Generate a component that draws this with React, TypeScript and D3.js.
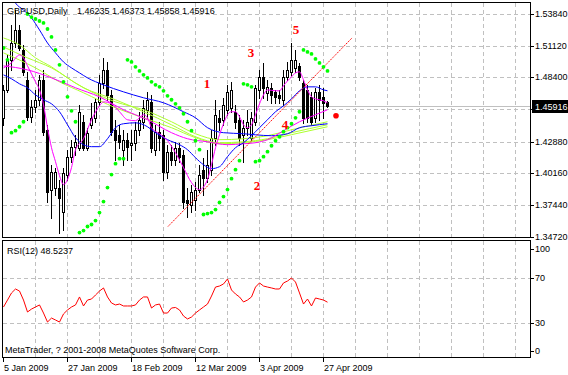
import React from 'react';
import * as d3 from 'd3';

// daily bars, 5 Jan 2009 .. 28 Apr 2009
const open = [1.4492, 1.4732, 1.499, 1.5135, 1.5247, 1.5075, 1.4818, 1.45, 1.4587, 1.4647,
  1.4818, 1.4389, 1.3875, 1.3892, 1.3892, 1.3686, 1.4004, 1.4158, 1.4244, 1.4235,
  1.4458, 1.4235, 1.4432, 1.4492, 1.4629, 1.4792, 1.4904, 1.469, 1.4389, 1.4346,
  1.4218, 1.4304, 1.4261, 1.4278, 1.4389, 1.4458, 1.4561, 1.4629, 1.4218, 1.4372,
  1.4346, 1.4029, 1.4201, 1.4132, 1.4235, 1.4175, 1.3789, 1.3746, 1.3789, 1.3875,
  1.4046, 1.3978, 1.4046, 1.4321, 1.4492, 1.4475, 1.4561, 1.4578, 1.4544, 1.4475,
  1.4346, 1.4406, 1.4321, 1.4458, 1.4732, 1.4844, 1.4707, 1.475, 1.4715, 1.469,
  1.4647, 1.4844, 1.4887, 1.4921, 1.4933, 1.4792, 1.4732, 1.4672, 1.4492, 1.4715,
  1.4672, 1.46235];
const high = [1.4775, 1.5032, 1.529, 1.5418, 1.529, 1.5118, 1.4887, 1.4647, 1.4732, 1.4861,
  1.4904, 1.4432, 1.4089, 1.4063, 1.3961, 1.4063, 1.4218, 1.4304, 1.4347, 1.4604,
  1.4518, 1.4406, 1.4621, 1.4664, 1.4861, 1.5007, 1.4972, 1.4732, 1.4475, 1.4432,
  1.4389, 1.4364, 1.4389, 1.4458, 1.4544, 1.4647, 1.4715, 1.469, 1.4432, 1.4458,
  1.4389, 1.4261, 1.4261, 1.4287, 1.4278, 1.4218, 1.3892, 1.3918, 1.3943, 1.4089,
  1.4149, 1.4218, 1.4389, 1.4647, 1.4561, 1.4664, 1.4775, 1.4801, 1.4604, 1.4518,
  1.4475, 1.4561, 1.4544, 1.4775, 1.4904, 1.4964, 1.4818, 1.4792, 1.4732, 1.4732,
  1.4904, 1.4972, 1.5135, 1.5075, 1.4964, 1.4818, 1.4775, 1.4715, 1.475, 1.4775,
  1.475, 1.46373];
const low = [1.4432, 1.4715, 1.4904, 1.5101, 1.5075, 1.4861, 1.4475, 1.4458, 1.4544, 1.4604,
  1.4346, 1.3772, 1.3635, 1.3832, 1.3506, 1.3532, 1.3961, 1.4115, 1.4175, 1.4218,
  1.4218, 1.4218, 1.4406, 1.4458, 1.4604, 1.475, 1.4647, 1.4346, 1.4132, 1.4235,
  1.4089, 1.4132, 1.4132, 1.4218, 1.4346, 1.4406, 1.4492, 1.4201, 1.4175, 1.4218,
  1.3961, 1.3978, 1.4089, 1.4089, 1.4115, 1.372, 1.3643, 1.3686, 1.3703, 1.3858,
  1.3832, 1.3943, 1.4004, 1.4261, 1.4389, 1.4432, 1.4518, 1.4544, 1.4407, 1.4261,
  1.4115, 1.4346, 1.4304, 1.4432, 1.4664, 1.4664, 1.4647, 1.4621, 1.4621, 1.4621,
  1.4604, 1.4818, 1.4861, 1.4887, 1.4818, 1.4449, 1.4458, 1.4432, 1.4458, 1.4475,
  1.4492, 1.45858];
const close = [1.4732, 1.499, 1.5135, 1.5247, 1.5092, 1.4887, 1.45, 1.4587, 1.4647, 1.4818,
  1.4372, 1.3858, 1.4029, 1.4029, 1.3806, 1.402, 1.4158, 1.4244, 1.4287, 1.4544,
  1.4235, 1.4364, 1.4492, 1.4629, 1.4792, 1.4904, 1.469, 1.4372, 1.4304, 1.4287,
  1.4304, 1.4244, 1.4278, 1.4389, 1.4475, 1.4578, 1.4647, 1.4235, 1.4372, 1.4321,
  1.4029, 1.4201, 1.4132, 1.4235, 1.4158, 1.3772, 1.3763, 1.3858, 1.3875, 1.4004,
  1.3978, 1.4089, 1.4321, 1.4518, 1.4458, 1.4604, 1.4715, 1.4732, 1.4458, 1.4321,
  1.4406, 1.4458, 1.4492, 1.475, 1.4844, 1.475, 1.4758, 1.469, 1.4672, 1.4664,
  1.4844, 1.4904, 1.499, 1.499, 1.4844, 1.4492, 1.4492, 1.4458, 1.4715, 1.4647,
  1.4621, 1.45916];

// parabolic SAR, one per bar
const sar = [1.5092, 1.499, 1.4364, 1.4381, 1.4415, 1.4458, 1.5384, 1.5358, 1.5341, 1.5324,
  1.5307, 1.5255, 1.5187, 1.5075, 1.4947, 1.4801, 1.4672, 1.4552, 1.4458, 1.3506,
  1.3523, 1.3558, 1.3575, 1.3609, 1.3678, 1.3772, 1.3892, 1.4004, 1.4098, 1.4141,
  1.4141, 1.499, 1.4972, 1.493, 1.4895, 1.4861, 1.4835, 1.4801, 1.4775, 1.4758,
  1.4724, 1.4681, 1.4647, 1.4612, 1.4578, 1.4527, 1.4458, 1.4381, 1.4295, 1.4218,
  1.3661, 1.3669, 1.3678, 1.3703, 1.3764, 1.3815, 1.3875, 1.3969, 1.4046, 1.4124,
  1.4784, 1.4775, 1.4758, 1.4115, 1.4124, 1.4158, 1.4201, 1.4252, 1.4295, 1.4329,
  1.4372, 1.4407, 1.4441, 1.4492, 1.4544, 1.5075, 1.5058, 1.5041, 1.4998, 1.4964,
  1.493, 1.4895];
const nextSar = [83.25, 1.4509];

const rsi = [44.3, 50.4, 56.6, 60.1, 58.3, 50.4, 39.9, 42.5, 44.3, 46.1,
  39.0, 31.1, 34.6, 32.9, 31.1, 38.2, 41.7, 44.3, 46.1, 53.1,
  45.2, 50.4, 51.3, 54.8, 58.3, 61.0, 53.1, 47.8, 46.1, 46.9,
  45.2, 45.2, 45.2, 46.1, 50.4, 53.1, 53.1, 43.4, 46.1, 46.9,
  39.0, 39.0, 43.4, 43.9, 41.7, 36.4, 33.8, 35.5, 39.0, 41.7,
  44.3, 46.9, 53.9, 61.8, 62.7, 64.5, 68.9, 59.2, 55.7, 53.1,
  48.7, 50.4, 53.1, 61.8, 65.4, 62.7, 61.8, 61.0, 60.1, 60.1,
  65.4, 67.1, 69.7, 66.2, 56.6, 46.9, 51.3, 45.2, 52.2, 51.3,
  50.4, 48.5237];

// moving averages, [bar, price]
const blueSlow = [[2, 1.5538], [3, 1.5478], [5, 1.5418], [7, 1.535], [9, 1.5247], [11, 1.5135], [13, 1.505], [15, 1.4972],
  [17, 1.4921], [19, 1.4878], [21, 1.4835], [25, 1.4775], [30, 1.4715], [35, 1.4664], [40, 1.4621], [45, 1.4544],
  [48, 1.4492], [51, 1.4407], [55, 1.4364], [60, 1.4355], [63, 1.4346], [67, 1.4338], [71, 1.4355], [74, 1.4407],
  [77, 1.4424], [81, 1.4441]];
const blueMid = [[0, 1.4861], [2, 1.4827], [4, 1.4784], [6, 1.475], [8, 1.4689], [10, 1.4647], [12, 1.4612], [14, 1.4544],
  [16, 1.4432], [18, 1.4321], [20, 1.4261], [22, 1.4244], [24, 1.4244], [26, 1.4312], [28, 1.4407], [30, 1.4441],
  [33, 1.4449], [36, 1.4415], [38, 1.4364], [41, 1.4304], [44, 1.4261], [46, 1.4218], [48, 1.4149], [50, 1.4089],
  [52, 1.4055], [54, 1.4072], [56, 1.4158], [58, 1.4235], [60, 1.4278], [62, 1.4338], [64, 1.4407], [66, 1.4475],
  [68, 1.4544], [70, 1.4595], [72, 1.4655], [74, 1.4724], [76, 1.4758], [78, 1.4758], [80, 1.4732], [81, 1.4724]];
const magFast = [[0, 1.4921], [2, 1.4964], [4, 1.5032], [5, 1.5007], [6, 1.4938], [8, 1.4801], [9, 1.4732], [10, 1.4604],
  [11, 1.4407], [12, 1.4235], [13, 1.4115], [14, 1.3995], [15, 1.3918], [16, 1.3961], [17, 1.4064], [18, 1.4218],
  [20, 1.4312], [22, 1.4475], [24, 1.4595], [25, 1.4629], [27, 1.4612], [29, 1.4544], [31, 1.4475], [33, 1.4467],
  [35, 1.4518], [36, 1.4492], [37, 1.4407], [39, 1.4355], [41, 1.4295], [43, 1.4192], [45, 1.4064], [47, 1.3935],
  [49, 1.3875], [51, 1.3961], [52, 1.4089], [53, 1.4235], [54, 1.4347], [55, 1.4441], [56, 1.4518], [57, 1.4544],
  [58, 1.4544], [59, 1.4501], [60, 1.4432], [61, 1.4407], [62, 1.4432], [63, 1.4518], [64, 1.4612], [65, 1.4689],
  [66, 1.4732], [68, 1.4724], [69, 1.4724], [70, 1.4767], [71, 1.4809], [72, 1.4844], [73, 1.4878], [74, 1.4887],
  [75, 1.4818], [76, 1.4732], [77, 1.4672], [78, 1.4655], [80, 1.4638], [81, 1.4621]];
const magMid = [[0, 1.4938], [6, 1.4904], [12, 1.4835], [18, 1.475], [24, 1.4672], [30, 1.4561], [36, 1.4475], [42, 1.4364],
  [46, 1.4312], [51, 1.4286], [56, 1.4261], [60, 1.4269], [63, 1.4278], [66, 1.4304], [70, 1.4381], [74, 1.4458],
  [78, 1.4518], [81, 1.4561]];
const ygA = [[0, 1.5178], [4, 1.5118], [8, 1.5007], [12, 1.493], [16, 1.4835], [22, 1.4715], [28, 1.4629], [35, 1.4561],
  [42, 1.4458], [48, 1.4355], [54, 1.4304], [60, 1.4312], [66, 1.4338], [72, 1.4389], [81, 1.4458]];
const ygB = [[0, 1.5101], [6, 1.5007], [12, 1.4921], [20, 1.475], [28, 1.4647], [35, 1.4544], [42, 1.4432], [48, 1.4329],
  [54, 1.4278], [60, 1.4286], [66, 1.4312], [72, 1.4364], [81, 1.4432]];
const ygC = [[0, 1.505], [8, 1.4921], [14, 1.4801], [20, 1.4707], [28, 1.4578], [35, 1.4492], [42, 1.4407], [48, 1.4321],
  [54, 1.4269], [60, 1.4278], [66, 1.4304], [72, 1.4347], [81, 1.4415]];

const trendLine = [[41.25, 1.3558], [87.25, 1.5178]];
const waveLabels = ['1', '2', '3', '4', '5'];
const waveBars = [51, 63.5, 62, 70.5, 73.25];
const wavePrices = [1.4784, 1.3909, 1.505, 1.4432, 1.5255];

const priceTicks = [1.5384, 1.5112, 1.484, 1.4564, 1.4288, 1.4016, 1.3744, 1.3472];
const priceLabels = ['1.53840', '1.51120', '1.48400', '', '1.42880', '1.40160', '1.37440', '1.34720'];
const rsiTicks = [100, 70, 30, 0];
const dateBars = [0, 16, 32, 48, 64, 80];
const dateLabels = ['5 Jan 2009', '27 Jan 2009', '18 Feb 2009', '12 Mar 2009', '3 Apr 2009', '27 Apr 2009'];
const lastPrice = 1.45916;

const FONT = '"Liberation Sans", Arial, sans-serif';

export default function App() {
  const x = d3.scaleLinear().domain([0, 132]).range([3, 531]);
  const y = d3.scaleLinear().domain([1.3472, 1.5384]).range([236.5, 14]);
  const yr = d3.scaleLinear().domain([30, 70]).range([323.3, 277.7]);
  const px = (i: number) => Math.round(x(i));

  const maLine = d3.line<number[]>()
    .x(d => x(d[0]) + 0.5)
    .y(d => y(d[1]))
    .curve(d3.curveMonotoneX);
  const rsiLine = d3.line<number>()
    .x((d, i) => px(i) + 0.5)
    .y(d => yr(d));

  const gridBars = d3.range(8, 129, 8);
  const mas: [number[][], string][] = [
    [ygC, '#adff2f'], [ygB, '#adff2f'], [ygA, '#adff2f'],
    [blueSlow, '#0000ff'], [magMid, '#ff00ff'], [blueMid, '#0000ff'], [magFast, '#ff00ff'],
  ];

  return (
    <svg width={568} height={375} style={{position: 'absolute', left: 0, top: 0, background: '#fff'}}
      fontFamily={FONT} fontSize={9}>
      <defs>
        <clipPath id="main"><rect x={3} y={3} width={528} height={234} /></clipPath>
        <clipPath id="sub"><rect x={3} y={241} width={528} height={117} /></clipPath>
      </defs>
      <rect width={568} height={375} fill="#fff" />

      {/* grid */}
      <g stroke="#c0c0c0" strokeDasharray="4,3" shapeRendering="crispEdges">
        {gridBars.map(b => (
          <g key={b}>
            <line x1={px(b) + 0.5} x2={px(b) + 0.5} y1={3} y2={237} />
            <line x1={px(b) + 0.5} x2={px(b) + 0.5} y1={241} y2={358} />
          </g>
        ))}
        {priceTicks.map(v => (
          <line key={v} x1={3} x2={531} y1={Math.round(y(v)) + 0.5} y2={Math.round(y(v)) + 0.5} />
        ))}
        {[70, 30].map(v => (
          <line key={v} x1={3} x2={531} y1={Math.round(yr(v)) + 0.5} y2={Math.round(yr(v)) + 0.5} />
        ))}
      </g>

      <g clipPath="url(#main)">
        {/* current price line */}
        <line x1={3} x2={531} y1={Math.round(y(lastPrice)) + 0.5} y2={Math.round(y(lastPrice)) + 0.5}
          stroke="#c0c0c0" />

        {/* candles */}
        {close.map((c, i) => {
          const cx = px(i);
          const o = open[i];
          const top = Math.round(y(Math.max(o, c)));
          const bot = Math.round(y(Math.min(o, c)));
          return (
            <g key={i} shapeRendering="crispEdges">
              <line x1={cx + 0.5} x2={cx + 0.5} y1={Math.round(y(high[i]))} y2={Math.round(y(low[i])) + 1} stroke="#000" />
              {c >= o ? (
                <rect x={cx - 0.5} y={top + 0.5} width={2} height={Math.max(bot - top, 1)} fill="#fff" stroke="#000" />
              ) : (
                <rect x={cx - 1} y={top} width={3} height={Math.max(bot - top + 1, 1)} fill="#000" />
              )}
            </g>
          );
        })}

        {/* moving averages */}
        {mas.map(([d, col], k) => (
          <path key={k} d={maLine(d) || ''} fill="none" stroke={col} strokeWidth={1} />
        ))}

        {/* trend line */}
        <line x1={x(trendLine[0][0])} y1={y(trendLine[0][1])} x2={x(trendLine[1][0])} y2={y(trendLine[1][1])}
          stroke="#ff0000" strokeWidth={1} strokeDasharray="1.5,1" />

        {/* parabolic SAR */}
        {sar.map((v, i) => (
          <circle key={i} cx={px(i) + 0.5} cy={y(v)} r={1.9} fill="#00ff00" />
        ))}
        <circle cx={x(nextSar[0])} cy={y(nextSar[1])} r={2.8} fill="#ff0000" />

        {/* wave counts */}
        {waveLabels.map((t, k) => (
          <text key={t} x={x(waveBars[k])} y={y(wavePrices[k])} textAnchor="middle" dominantBaseline="central"
            fontFamily='"Liberation Serif", "Times New Roman", serif' fontWeight="bold" fontSize={13} fill="#ff0000">{t}</text>
        ))}
      </g>

      {/* RSI */}
      <g clipPath="url(#sub)">
        <path d={rsiLine(rsi) || ''} fill="none" stroke="#ff0000" strokeWidth={1} />
      </g>

      {/* frames */}
      <g fill="none" stroke="#000" shapeRendering="crispEdges">
        <rect x={2.5} y={2.5} width={528} height={235} />
        <rect x={2.5} y={240.5} width={528} height={117} />
      </g>

      {/* price axis */}
      {priceTicks.map((v, k) => (
        <g key={v}>
          <line x1={531} x2={534} y1={Math.round(y(v)) + 0.5} y2={Math.round(y(v)) + 0.5} stroke="#000" />
          {priceLabels[k] && (
            <text x={535} y={Math.round(y(v))} dominantBaseline="central" fill="#000">{priceLabels[k]}</text>
          )}
        </g>
      ))}
      <rect x={532} y={Math.round(y(lastPrice)) - 6} width={36} height={13} fill="#000" />
      <text x={535} y={Math.round(y(lastPrice)) + 0.5} dominantBaseline="central" fill="#fff">{lastPrice.toFixed(5)}</text>

      {/* RSI axis */}
      {rsiTicks.map(v => {
        const ty = v === 100 ? 249 : v === 0 ? 351 : Math.round(yr(v));
        return (
          <g key={v}>
            <line x1={531} x2={534} y1={ty + 0.5} y2={ty + 0.5} stroke="#000" />
            <text x={535} y={ty} dominantBaseline="central">{v}</text>
          </g>
        );
      })}

      {/* time axis */}
      {dateBars.map((b, k) => (
        <g key={b}>
          <line x1={px(b) + 0.5} x2={px(b) + 0.5} y1={358} y2={362} stroke="#000" />
          <text x={px(b) + 1} y={371}>{dateLabels[k]}</text>
        </g>
      ))}

      {/* titles */}
      <text x={7} y={14}>GBPUSD,Daily</text>
      <text x={77} y={14}>{[open, high, low, close].map(a => a[a.length - 1].toFixed(5)).join(' ')}</text>
      <text x={7} y={254}>RSI(12) {rsi[rsi.length - 1].toFixed(4)}</text>
      <text x={5} y={353}>MetaTrader, ? 2001-2008 MetaQuotes Software Corp.</text>
    </svg>
  );
}
